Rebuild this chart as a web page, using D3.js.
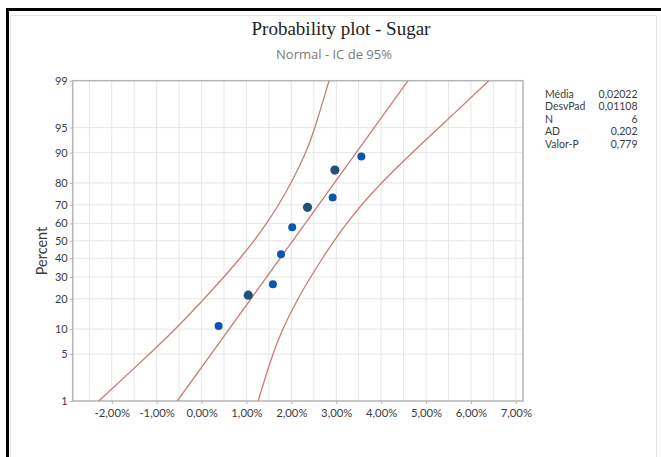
<!DOCTYPE html>
<html>
<head>
<meta charset="utf-8">
<script src="https://cdn.jsdelivr.net/npm/d3@7"></script>
<style>
  html, body { margin: 0; padding: 0; background: #fff; }
  svg { display: block; }
</style>
</head>
<body>
<svg id="chart" width="661" height="457"></svg>
<script>
// ---------------- data ----------------
const xTicks = [-2, -1, 0, 1, 2, 3, 4, 5, 6, 7];               // percent
const xGrid = [-2.5, -2, -1.5, -1, -0.5, 0, 0.5, 1, 1.5, 2, 2.5, 3, 3.5, 4, 4.5, 5, 5.5, 6, 6.5, 7];
const yTicks = [1, 5, 10, 20, 30, 40, 50, 60, 70, 80, 90, 95, 99];
const yGrid = [5, 10, 20, 30, 40, 50, 60, 70, 80, 90, 95];

const pointX = [0.38, 1.04, 1.59, 1.77, 2.02, 2.36, 2.92, 2.97, 3.56];   // value in %
const pointP = [10.8, 21.5, 26.4, 42.3, 57.8, 68.7, 73.6, 84.8, 89.0];   // percent
const pointGroup = ["a", "b", "a", "a", "a", "b", "a", "b", "a"];

const fitP = [1, 99];
const fitX = [-0.54, 4.60];

const bandP = [1, 5, 10, 20, 30, 40, 50, 60, 70, 80, 90, 95, 99];
const bandLower = [-2.29, -1.16, -0.58, 0.06, 0.50, 0.86, 1.17, 1.45, 1.72, 2.00, 2.33, 2.53, 2.84];
const bandUpper = [1.26, 1.58, 1.80, 2.14, 2.43, 2.69, 2.95, 3.23, 3.56, 4.00, 4.69, 5.29, 6.40];

const statLabels = ["Média", "DesvPad", "N", "AD", "Valor-P"];
const statValues = ["0,02022", "0,01108", "6", "0,202", "0,779"];

const titleText = "Probability plot - Sugar";
const subtitleText = "Normal - IC de 95%";
const yLabel = "Percent";

// ---------------- helpers ----------------
// inverse standard normal CDF (Acklam) for the probability scale
function probit(p) {
  const a = [-3.969683028665376e+01, 2.209460984245205e+02, -2.759285104469687e+02, 1.383577518672690e+02, -3.066479806614716e+01, 2.506628277459239e+00];
  const b = [-5.447609879822406e+01, 1.615858368580409e+02, -1.556989798598866e+02, 6.680131188771972e+01, -1.328068155288572e+01];
  const c = [-7.784894002430293e-03, -3.223964580411365e-01, -2.400758277161838e+00, -2.549732539343734e+00, 4.374664141464968e+00, 2.938163982698783e+00];
  const d = [7.784695709041462e-03, 3.224671290700398e-01, 2.445134137142996e+00, 3.754408661907416e+00];
  const pl = 0.02425, ph = 1 - pl;
  let q, r;
  if (p < pl) {
    q = Math.sqrt(-2 * Math.log(p));
    return (((((c[0]*q+c[1])*q+c[2])*q+c[3])*q+c[4])*q+c[5]) / ((((d[0]*q+d[1])*q+d[2])*q+d[3])*q+1);
  } else if (p <= ph) {
    q = p - 0.5; r = q * q;
    return (((((a[0]*r+a[1])*r+a[2])*r+a[3])*r+a[4])*r+a[5])*q / (((((b[0]*r+b[1])*r+b[2])*r+b[3])*r+b[4])*r+1);
  } else {
    q = Math.sqrt(-2 * Math.log(1 - p));
    return -(((((c[0]*q+c[1])*q+c[2])*q+c[3])*q+c[4])*q+c[5]) / ((((d[0]*q+d[1])*q+d[2])*q+d[3])*q+1);
  }
}

// ---------------- layout ----------------
const svg = d3.select("#chart");
const plot = { left: 72.7, right: 523, top: 80.7, bottom: 401 };

const x = d3.scaleLinear().domain([-2.87, 7.16]).range([plot.left, plot.right]);
const z = d3.scaleLinear().domain([probit(0.01), probit(0.99)]).range([plot.bottom, plot.top]);
const y = p => z(probit(p / 100));

const loc = d3.formatLocale({ decimal: ",", thousands: ".", grouping: [3], currency: ["", ""], minus: "-" });
const fmtX = v => loc.format(".2f")(v) + "%";

const sans = "'Segoe UI', Lato, 'Open Sans', sans-serif";

// outer frame (black border left and top, light inner frame)
svg.append("rect").attr("x", 6).attr("y", 8).attr("width", 655).attr("height", 3).attr("fill", "#000");
svg.append("rect").attr("x", 6).attr("y", 8).attr("width", 3).attr("height", 449).attr("fill", "#000");
svg.append("path")
  .attr("d", "M10.5,457 V15.5 H656.5 V457")
  .attr("fill", "none").attr("stroke", "#e4e4e4").attr("stroke-width", 1);

// title
svg.append("text").attr("x", 341).attr("y", 35)
  .attr("text-anchor", "middle")
  .attr("font-family", "'Liberation Serif', 'Times New Roman', serif")
  .attr("font-size", 19).attr("fill", "#1e1e1e").text(titleText);
svg.append("text").attr("x", 334).attr("y", 58.5)
  .attr("text-anchor", "middle")
  .attr("font-family", "'Open Sans', sans-serif")
  .attr("font-size", 13).attr("fill", "#7a7a7a").text(subtitleText);

// gridlines
const g = svg.append("g");
g.selectAll(".vg").data(xGrid).join("line")
  .attr("x1", d => x(d)).attr("x2", d => x(d))
  .attr("y1", plot.top).attr("y2", plot.bottom)
  .attr("stroke", "#e6e6e6").attr("stroke-width", 1);
g.selectAll(".hg").data(yGrid).join("line")
  .attr("x1", plot.left).attr("x2", plot.right)
  .attr("y1", d => y(d)).attr("y2", d => y(d))
  .attr("stroke", "#e6e6e6").attr("stroke-width", 1);

// plot frame
svg.append("rect")
  .attr("x", plot.left).attr("y", plot.top)
  .attr("width", plot.right - plot.left).attr("height", plot.bottom - plot.top)
  .attr("fill", "none").attr("stroke", "#b5b5b5").attr("stroke-width", 1.5);

// axes
const yAxis = d3.axisLeft(z)
  .tickValues(yTicks.map(p => probit(p / 100)))
  .tickFormat((d, i) => yTicks[i])
  .tickSize(3).tickPadding(2);
const ya = svg.append("g").attr("transform", `translate(${plot.left},0)`).call(yAxis);
ya.select(".domain").remove();
ya.selectAll(".tick line").attr("stroke", "#b5b5b5");
ya.selectAll(".tick text").attr("font-family", sans).attr("font-size", 11).attr("fill", "#3c3c3c");

const xAxis = d3.axisBottom(x).tickValues(xTicks).tickFormat(fmtX).tickSize(3).tickPadding(5);
const xa = svg.append("g").attr("transform", `translate(0,${plot.bottom})`).call(xAxis);
xa.select(".domain").remove();
xa.selectAll(".tick line").attr("stroke", "#b5b5b5");
xa.selectAll(".tick text").attr("font-family", sans).attr("font-size", 11.3).attr("fill", "#3c3c3c");

// y label
svg.append("text")
  .attr("transform", "translate(46.5,251) rotate(-90)")
  .attr("text-anchor", "middle")
  .attr("font-family", sans).attr("font-size", 14.5).attr("fill", "#3c3c3c")
  .text(yLabel);

// clip
svg.append("clipPath").attr("id", "clip").append("rect")
  .attr("x", plot.left).attr("y", plot.top)
  .attr("width", plot.right - plot.left).attr("height", plot.bottom - plot.top);

const lines = svg.append("g").attr("clip-path", "url(#clip)");
const bandLine = d3.line().x(d => x(d[0])).y(d => y(d[1])).curve(d3.curveBasis);
const bandColor = "#c87d77";

lines.append("path").datum(bandLower.map((v, i) => [v, bandP[i]]))
  .attr("d", bandLine).attr("fill", "none").attr("stroke", bandColor).attr("stroke-width", 1.3);
lines.append("path").datum(bandUpper.map((v, i) => [v, bandP[i]]))
  .attr("d", bandLine).attr("fill", "none").attr("stroke", bandColor).attr("stroke-width", 1.3);
lines.append("path").datum(fitX.map((v, i) => [v, fitP[i]]))
  .attr("d", d3.line().x(d => x(d[0])).y(d => y(d[1])))
  .attr("fill", "none").attr("stroke", bandColor).attr("stroke-width", 1.3);

// points
const colors = { a: "#0b57b0", b: "#23507a" };
svg.append("g").selectAll("circle").data(pointX.map((v, i) => ({ v, p: pointP[i], g: pointGroup[i] })))
  .join("circle")
  .attr("cx", d => x(d.v)).attr("cy", d => y(d.p))
  .attr("r", d => d.g === "b" ? 4.6 : 4)
  .attr("fill", d => colors[d.g]);

// stats table
const st = svg.append("g").attr("font-family", sans).attr("font-size", 10.5).attr("fill", "#3c3c3c");
statLabels.forEach((lab, i) => {
  st.append("text").attr("x", 545).attr("y", 97.8 + i * 12.5).text(lab);
  st.append("text").attr("x", 637.5).attr("y", 97.8 + i * 12.5).attr("text-anchor", "end").text(statValues[i]);
});
</script>
</body>
</html>
